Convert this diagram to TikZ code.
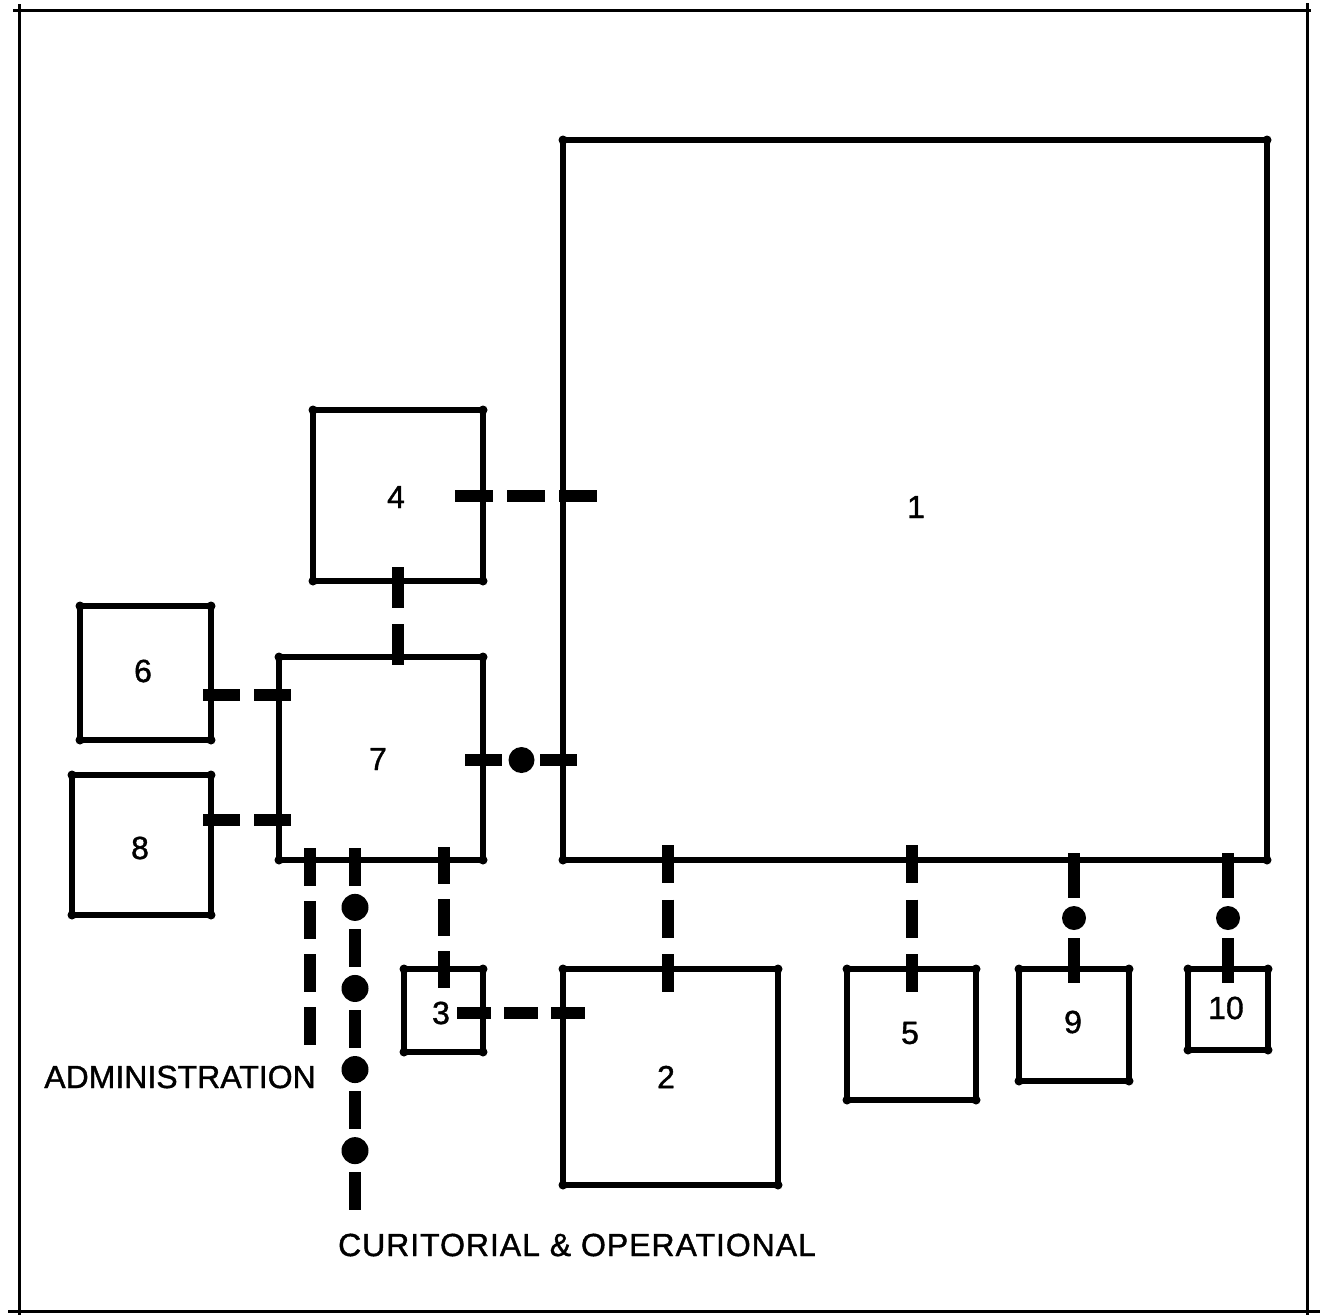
\documentclass[tikz,border=0pt]{standalone}
\usepackage{fontspec}
\setmainfont{Liberation Sans}[FakeBold=1.2]
\newfontfamily\widefont{Liberation Sans}[FakeBold=1.2, LetterSpace=3]
\usetikzlibrary{calc}
\begin{document}
\begin{tikzpicture}[x=1pt,y=-1pt,
  room/.style={draw, line width=5.5pt, rectangle, outer sep=0pt, inner sep=0pt},
  lbl/.style={font=\fontsize{32}{32}\selectfont, inner sep=0pt},
  conn/.style={line width=12pt},
  dotn/.style={circle, fill, draw=none, inner sep=0pt, minimum size=#1},
  framel/.style={line width=3pt}
]
\useasboundingbox (0,0) rectangle (1320,1315);
% frame
\draw[framel] (19,4) -- (19,1315);
\draw[framel] (13,10) -- (1311,10);
\draw[framel] (1307,3) -- (1307,1315);
\draw[framel] (8,1311) -- (1320,1311);

% rooms
\node[room, minimum width=704pt, minimum height=720pt] (b1) at (915,500) {};
\node[room, minimum width=215pt, minimum height=216pt] (b2) at (670.5,1077) {};
\node[room, minimum width=79pt, minimum height=83pt] (b3) at (443.5,1010.5) {};
\node[room, minimum width=170pt, minimum height=171pt] (b4) at (398,495.5) {};
\node[room, minimum width=129pt, minimum height=131pt] (b5) at (911.5,1034.5) {};
\node[room, minimum width=131pt, minimum height=134pt] (b6) at (145.5,673) {};
\node[room, minimum width=204pt, minimum height=203pt] (b7) at (381,758.5) {};
\node[room, minimum width=139pt, minimum height=140pt] (b8) at (141.5,845) {};
\node[room, minimum width=110pt, minimum height=112pt] (b9) at (1074,1025) {};
\node[room, minimum width=80pt, minimum height=81pt] (b10) at (1228,1009.5) {};
\foreach \b in {b1,b2,b3,b4,b5,b6,b7,b8,b9,b10}
  \foreach \c in {north west,north east,south west,south east}
    \fill (\b.\c) circle (4.5pt);

% labels
\node[lbl] (t1) at (916,507) {1};
\node[lbl] (t2) at (666,1077) {2};
\node[lbl] (t3) at (441,1013) {3};
\node[lbl] (t4) at (396,497) {4};
\node[lbl] (t5) at (910,1033) {5};
\node[lbl] (t6) at (143,671) {6};
\node[lbl] (t7) at (378,759) {7};
\node[lbl] (t8) at (140,848) {8};
\node[lbl] (t9) at (1073,1022) {9};
\node[lbl] (t10) at (1226,1008) {10};
\node[lbl] (tadm) at (180,1077) {ADMINISTRATION};
\node[lbl, font=\fontsize{32}{32}\widefont] (tcur) at (577,1245) {CURITORIAL \& OPERATIONAL};

% connectors
\draw[conn, dash pattern=on 38pt off 14pt] ($(b4.east)+(-28,0)$) -- ($(b4.east -| b1.west)+(34,0)$);
\draw[conn, dash pattern=on 41pt off 16pt] ($(b4.south)+(0,-14)$) -- ($(b4.south |- b7.north)+(0,8)$);
\draw[conn, dash pattern=on 37pt off 14pt] ($(b6.east)+(-8,22)$) -- ($(b6.east -| b7.west)+(12,22)$);
\draw[conn, dash pattern=on 37pt off 14pt] ($(b8.east)+(-8,-25)$) -- ($(b8.east -| b7.west)+(12,-25)$);
\draw[conn, dash pattern=on 37pt off 38pt] ($(b7.east)+(-18,1.5)$) -- ($(b7.east -| b1.west)+(15,1.5)$)
  node[dotn=26pt, midway] (d71) {};

\coordinate (adminEnd) at (310,1047);
\draw[conn, dash pattern=on 38pt off 15pt] ($(b7.south west)+(31,-12)$) -- (adminEnd);

\coordinate (curEnd) at (355,1210);
\draw[conn, dash pattern=on 38pt off 43pt] ($(b7.south west)+(76,-12)$) -- (curEnd)
  node[dotn=27pt, pos=0.164] (dc1) {}
  node[dotn=27pt, pos=0.388] (dc2) {}
  node[dotn=27pt, pos=0.612] (dc3) {}
  node[dotn=27pt, pos=0.836] (dc4) {};

\draw[conn, dash pattern=on 37pt off 15pt] ($(b3.north |- b7.south)+(0,-13)$) -- ($(b3.north)+(0,19)$);
\draw[conn, dash pattern=on 34pt off 13pt] ($(b3.east)+(-26,2.5)$) -- ($(b3.east -| b2.west)+(22,2.5)$);

\draw[conn, dash pattern=on 38pt off 16.5pt] ($(b2.north |- b1.south)+(-2.5,-15)$) -- ($(b2.north)+(-2.5,23)$);
\draw[conn, dash pattern=on 38pt off 16.5pt] ($(b5.north |- b1.south)+(0,-15)$) -- ($(b5.north)+(0,23)$);
\draw[conn, dash pattern=on 45pt off 40pt] ($(b9.north |- b1.south)+(0,-7)$) -- ($(b9.north)+(0,14)$)
  node[dotn=24pt, midway] (d19) {};
\draw[conn, dash pattern=on 45pt off 40pt] ($(b10.north |- b1.south)+(0,-7)$) -- ($(b10.north)+(0,14)$)
  node[dotn=24pt, midway] (d110) {};
\end{tikzpicture}
\end{document}
